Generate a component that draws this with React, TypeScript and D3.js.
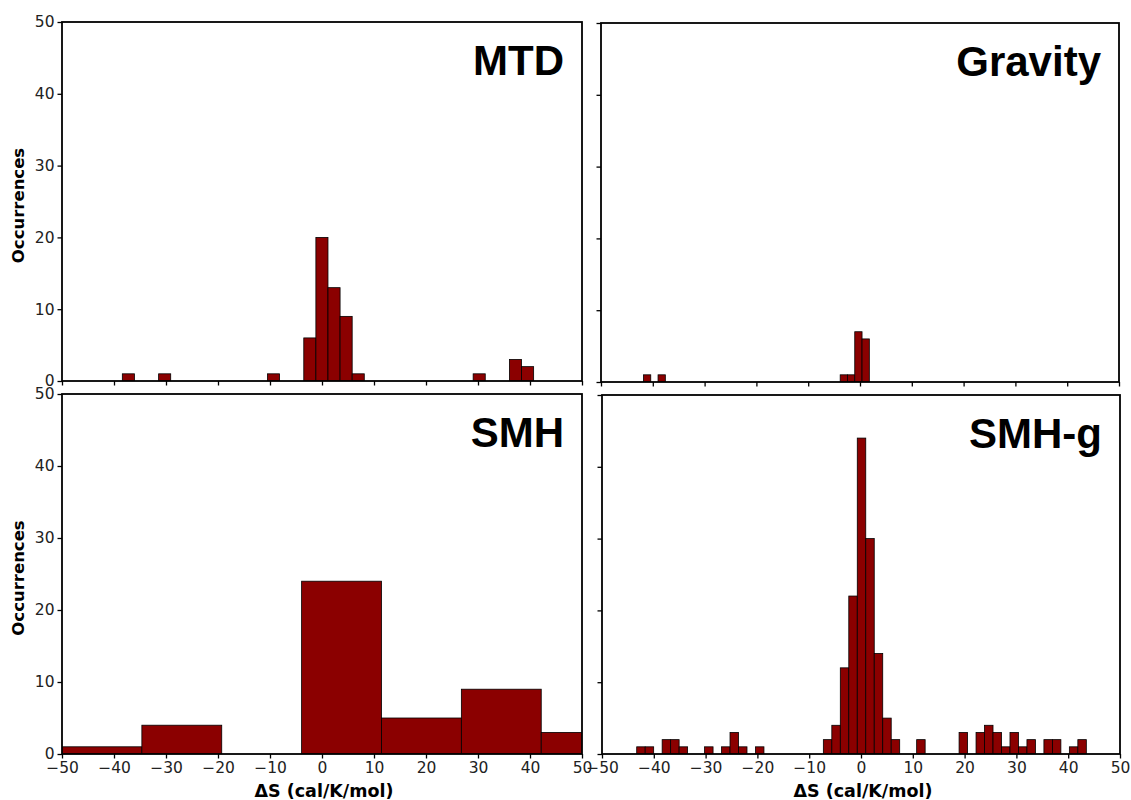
import React, { useEffect, useRef } from "react";
import * as d3 from "d3";

// histogram counts; bins are evenly spaced between lo and hi
const mtdRange = [-38.4, 40.7];
const mtdCounts = [1, 0, 0, 1, 0, 0, 0, 0, 0, 0, 0, 0, 1, 0, 0, 6, 20, 13, 9, 1, 0, 0, 0, 0, 0, 0, 0, 0, 0, 1, 0, 0, 3, 2];

const gravityRange = [-41.8, 1.8];
const gravityCounts = [1, 0, 1, 0, 0, 0, 0, 0, 0, 0, 0, 0, 0, 0, 0, 0, 0, 0, 0, 0, 0, 0, 0, 0, 0, 0, 0, 1, 1, 7, 6];

const smhRange = [-50, 57.52];
const smhCounts = [1, 4, 0, 24, 5, 9, 3];

const smhgRange = [-43.3, 43.5];
const smhgCounts = [
  1, 1, 0, 2, 2, 1, 0, 0, 1, 0,
  1, 3, 1, 0, 1, 0, 0, 0, 0, 0,
  0, 0, 2, 4, 12, 22, 44, 30, 14, 5,
  2, 0, 0, 2, 0, 0, 0, 0, 3, 0,
  3, 4, 3, 1, 3, 1, 2, 0, 2, 2,
  0, 1, 2,
];

const panelNames = ["MTD", "Gravity", "SMH", "SMH-g"];
const xTicks = [-50, -40, -30, -20, -10, 0, 10, 20, 30, 40, 50];
const yTicks = [0, 10, 20, 30, 40, 50];
const xLabel = "ΔS (cal/K/mol)";
const yLabel = "Occurrences";

const App = () => {
  const ref = useRef<SVGSVGElement>(null);

  useEffect(() => {
    const width = 1131;
    const height = 800;
    const svg = d3.select(ref.current).attr("width", width).attr("height", height);
    svg.selectAll("*").remove();

    const panels = [
      { name: panelNames[0], range: mtdRange, counts: mtdCounts, x0: 62, x1: 582, y0: 22, y1: 381, xLab: false, yLab: true },
      { name: panelNames[1], range: gravityRange, counts: gravityCounts, x0: 601, x1: 1119, y0: 23, y1: 382, xLab: false, yLab: false },
      { name: panelNames[2], range: smhRange, counts: smhCounts, x0: 62, x1: 582, y0: 394, y1: 754, xLab: true, yLab: true },
      { name: panelNames[3], range: smhgRange, counts: smhgCounts, x0: 602, x1: 1120, y0: 395, y1: 754, xLab: true, yLab: false },
    ];

    const fmt = d3.format("d");

    panels.forEach((p, pi) => {
      const x = d3.scaleLinear().domain([-50, 50]).range([p.x0, p.x1]);
      const y = d3.scaleLinear().domain([0, 50]).range([p.y1, p.y0]);
      const g = svg.append("g");

      // clip bars to the axes box
      const clipId = "clip" + pi;
      g.append("clipPath").attr("id", clipId)
        .append("rect")
        .attr("x", p.x0).attr("y", p.y0)
        .attr("width", p.x1 - p.x0).attr("height", p.y1 - p.y0);

      const [lo, hi] = p.range;
      const w = (hi - lo) / p.counts.length;
      const bins = p.counts
        .map((c, i) => ({ a: lo + i * w, b: lo + (i + 1) * w, c }))
        .filter((d) => d.c > 0);

      g.append("g")
        .attr("clip-path", `url(#${clipId})`)
        .selectAll("rect")
        .data(bins)
        .enter()
        .append("rect")
        .attr("x", (d) => x(d.a))
        .attr("y", (d) => y(d.c))
        .attr("width", (d) => x(d.b) - x(d.a))
        .attr("height", (d) => y(0) - y(d.c))
        .attr("fill", "#8b0000")
        .attr("stroke", "#000")
        .attr("stroke-width", 0.8);

      const xAxis = g.append("g")
        .attr("transform", `translate(0, ${p.y1})`)
        .call(
          d3.axisBottom(x)
            .tickValues(xTicks)
            .tickSize(4.5)
            .tickPadding(3.5)
            .tickFormat((d) => (p.xLab ? fmt(d as number) : ""))
        );
      xAxis.select(".domain").remove();

      const yAxis = g.append("g")
        .attr("transform", `translate(${p.x0}, 0)`)
        .call(
          d3.axisLeft(y)
            .tickValues(yTicks)
            .tickSize(4.5)
            .tickPadding(3)
            .tickFormat((d) => (p.yLab ? fmt(d as number) : ""))
        );
      yAxis.select(".domain").remove();

      [xAxis, yAxis].forEach((ax) => {
        ax.selectAll("line").attr("stroke", "#000").attr("stroke-width", 1.3);
        ax.selectAll("text")
          .attr("font-family", "DejaVu Sans")
          .attr("font-size", 15.5)
          .attr("fill", "#222");
      });

      // frame
      g.append("rect")
        .attr("x", p.x0).attr("y", p.y0)
        .attr("width", p.x1 - p.x0).attr("height", p.y1 - p.y0)
        .attr("fill", "none")
        .attr("stroke", "#000")
        .attr("stroke-width", 1.8);

      // panel name
      g.append("text")
        .attr("x", p.x1 - 18)
        .attr("y", p.y0 + 53)
        .attr("text-anchor", "end")
        .attr("font-family", "Liberation Sans, Arial")
        .attr("font-weight", "bold")
        .attr("font-size", 42)
        .attr("fill", "#000")
        .text(p.name);

      if (p.yLab) {
        g.append("text")
          .attr("transform", `translate(24, ${(p.y0 + p.y1) / 2 + 4}) rotate(-90)`)
          .attr("text-anchor", "middle")
          .attr("font-family", "DejaVu Sans")
          .attr("font-weight", "bold")
          .attr("font-size", 16.5)
          .attr("fill", "#000")
          .text(yLabel);
      }
      if (p.xLab) {
        g.append("text")
          .attr("x", (p.x0 + p.x1) / 2 + 2)
          .attr("y", 797)
          .attr("text-anchor", "middle")
          .attr("font-family", "DejaVu Sans")
          .attr("font-weight", "bold")
          .attr("font-size", 17.5)
          .attr("fill", "#000")
          .text(xLabel);
      }
    });
  }, []);

  return (
    <svg
      ref={ref}
      style={{ position: "absolute", left: 0, top: 0, background: "#fff" }}
    ></svg>
  );
};

export default App;
